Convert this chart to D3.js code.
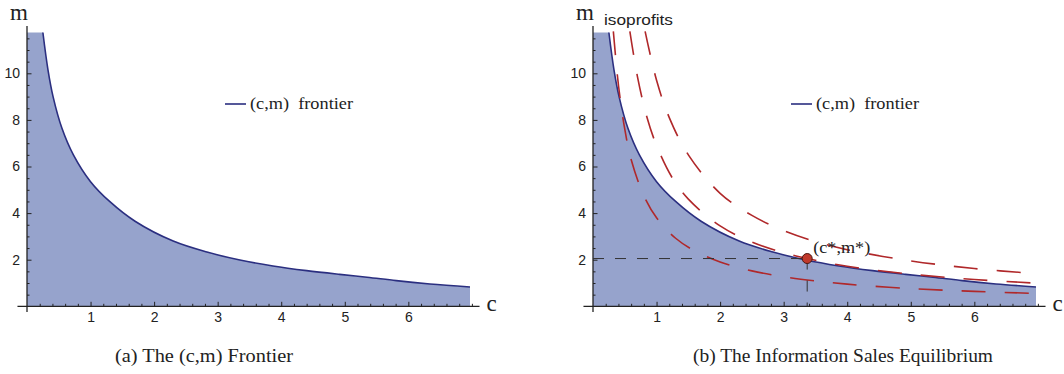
<!DOCTYPE html>
<html>
<head>
<meta charset="utf-8">
<script src="https://cdn.jsdelivr.net/npm/d3@7"></script>
<style>
  body { margin: 0; background: #fff; }
  svg { display: block; }
  .serif { font-family: "Liberation Serif", "Times New Roman", serif; }
  .sans { font-family: "Liberation Sans", Arial, sans-serif; }
</style>
</head>
<body>
<svg id="chart" width="1064" height="374"></svg>
<script>
// frontier (c,m)
const frontierC = [0.25, 0.33, 0.41, 0.55, 0.73, 1.0, 1.3, 1.7, 2.3, 2.83, 3.35, 3.87, 4.4, 4.92, 5.35, 5.81, 6.34, 6.97]
const frontierM = [11.75, 10.15, 9.0, 7.64, 6.5, 5.35, 4.5, 3.65, 2.8, 2.33, 1.985, 1.73, 1.53, 1.37, 1.25, 1.1, 0.96, 0.83]

// three isoprofit curves (right panel)
const iso1C = [0.32, 0.4, 0.5, 0.6, 0.8, 1.0, 1.3, 1.6, 2.0, 2.5, 3.0, 3.5, 4.0, 5.0, 6.0, 7.0]
const iso1M = [11.8, 9.5, 7.6, 6.3, 4.75, 3.8, 2.92, 2.38, 1.9, 1.52, 1.27, 1.09, 0.95, 0.76, 0.64, 0.55]
const iso2C = [0.58, 0.7, 0.85, 1.0, 1.25, 1.5, 2.0, 2.5, 3.0, 3.37, 4.0, 5.0, 6.0, 7.0]
const iso2M = [11.8, 9.85, 8.1, 6.9, 5.5, 4.6, 3.45, 2.76, 2.3, 2.05, 1.72, 1.38, 1.15, 0.99]
const iso3C = [0.82, 1.0, 1.2, 1.5, 2.0, 2.5, 3.0, 3.5, 4.0, 5.0, 6.0, 7.0]
const iso3M = [11.8, 9.7, 8.1, 6.5, 4.85, 3.9, 3.25, 2.78, 2.43, 1.95, 1.62, 1.4]

// equilibrium
const eqC = 3.37
const eqM = 2.05

// ticks
const xMajorTicks = [1, 2, 3, 4, 5, 6]
const yMajorTicks = [2, 4, 6, 8, 10]

const FILL = "#96a3cc"
const LINE = "#2b2f80"
const RED = "#b0282a"

const svg = d3.select("#chart")

const x = d3.scaleLinear().domain([0, 7]).range([0, 444.9])
const y = d3.scaleLinear().domain([0, 12]).range([279.6, 0])

const toPts = (cs, ms) => cs.map((c, i) => ({ c: c, m: ms[i] }))
const line = d3.line().x(d => x(d.c)).y(d => y(d.m)).curve(d3.curveCatmullRom.alpha(0.5))

function drawPanel(ox, caption, capX0, capX1) {
  const g = svg.append("g").attr("transform", `translate(${ox},26.7)`)

  // shaded region under the frontier
  const pts = toPts(frontierC, frontierM)
  const fp = line(pts)
  const areaPath = `M${x(0)},${y(0)}L${x(0)},${y(frontierM[0])}L` + fp.slice(1) +
    `L${x(frontierC[frontierC.length - 1])},${y(0)}Z`
  g.append("path").attr("d", areaPath).attr("fill", FILL)

  // axes
  const minorX = d3.range(1, 36).map(i => i * 0.2).filter(v => Math.abs(v - Math.round(v)) > 1e-6 || v > 6.5)
  const minorY = d3.range(1, 24).map(i => i * 0.5).filter(v => v % 2 !== 0)

  const xAxis = g.append("g").attr("transform", `translate(0,${y(0)})`)
    .call(d3.axisBottom(x).tickValues(xMajorTicks).tickSize(-4.5).tickPadding(6).tickFormat(d3.format("d")))
  const xMinor = g.append("g").attr("transform", `translate(0,${y(0)})`)
    .call(d3.axisBottom(x).tickValues(minorX).tickSize(-2.5).tickFormat(""))
  const yAxis = g.append("g")
    .call(d3.axisLeft(y).tickValues(yMajorTicks).tickSize(-4.5).tickPadding(7).tickFormat(d3.format("d")))
  const yMinor = g.append("g")
    .call(d3.axisLeft(y).tickValues(minorY).tickSize(-2.5).tickFormat(""))

  ;[xAxis, xMinor, yAxis, yMinor].forEach(a => {
    a.select(".domain").remove()
    a.selectAll(".tick line").attr("stroke", "#222").attr("stroke-width", 1)
    a.selectAll(".tick text").attr("font-size", 14).attr("fill", "#222")
      .attr("font-family", "'Liberation Sans', Arial, sans-serif")
  })

  g.append("line")
    .attr("x1", x(-0.15)).attr("x2", x(7.12))
    .attr("y1", y(0)).attr("y2", y(0))
    .attr("stroke", "#222").attr("stroke-width", 1.3)
  g.append("line")
    .attr("x1", x(0)).attr("x2", x(0))
    .attr("y1", y(-0.25)).attr("y2", y(12.03))
    .attr("stroke", "#222").attr("stroke-width", 1.3)

  // frontier line
  g.append("path").attr("d", fp)
    .attr("fill", "none").attr("stroke", LINE).attr("stroke-width", 1.6)

  // axis labels
  g.append("text").attr("class", "serif")
    .attr("x", x(0) - 17).attr("y", -6.5)
    .attr("font-size", 23).attr("fill", "#222").text("m")
  g.append("text").attr("class", "serif")
    .attr("x", x(7.12) + 7).attr("y", y(0) + 5)
    .attr("font-size", 23).attr("fill", "#222").text("c")

  // legend
  g.append("line")
    .attr("x1", 198).attr("x2", 219).attr("y1", 77.3).attr("y2", 77.3)
    .attr("stroke", LINE).attr("stroke-width", 1.6)
  g.append("text").attr("class", "serif")
    .attr("x", 223).attr("y", 82.5)
    .attr("font-size", 16).attr("fill", "#222")
    .attr("textLength", 103).attr("lengthAdjust", "spacingAndGlyphs")
    .style("white-space", "pre")
    .text("(c,m)  frontier")

  // caption
  svg.append("text").attr("class", "serif")
    .attr("x", capX0).attr("y", 362)
    .attr("font-size", 19).attr("fill", "#222")
    .attr("textLength", capX1 - capX0).attr("lengthAdjust", "spacingAndGlyphs")
    .text(caption)

  return g
}

drawPanel(27, "(a) The (c,m) Frontier", 115, 293)
const rg = drawPanel(593, "(b) The Information Sales Equilibrium", 693, 993)

// isoprofits
;[[iso1C, iso1M], [iso2C, iso2M], [iso3C, iso3M]].forEach(([cs, ms]) => {
  rg.append("path").attr("d", line(toPts(cs, ms)))
    .attr("fill", "none").attr("stroke", RED)
    .attr("stroke-width", 1.6).attr("stroke-dasharray", "24,19")
})

rg.append("text").attr("class", "sans")
  .attr("x", 11).attr("y", -1.5)
  .attr("font-size", 15).attr("fill", "#222")
  .attr("textLength", 69).attr("lengthAdjust", "spacingAndGlyphs")
  .text("isoprofits")

// dashed guides to the equilibrium
rg.append("line")
  .attr("x1", x(0)).attr("x2", x(eqC))
  .attr("y1", y(eqM)).attr("y2", y(eqM))
  .attr("stroke", "#333").attr("stroke-width", 1).attr("stroke-dasharray", "11,11")
rg.append("line")
  .attr("x1", x(eqC)).attr("x2", x(eqC))
  .attr("y1", y(eqM)).attr("y2", y(0))
  .attr("stroke", "#333").attr("stroke-width", 1).attr("stroke-dasharray", "11,11")

rg.append("circle")
  .attr("cx", x(eqC)).attr("cy", y(eqM)).attr("r", 5)
  .attr("fill", "#c0392b").attr("stroke", "#4a1510").attr("stroke-width", 1)

rg.append("text").attr("class", "serif")
  .attr("x", x(eqC) + 6).attr("y", y(eqM) - 6)
  .attr("font-size", 17).attr("fill", "#222")
  .attr("textLength", 57).attr("lengthAdjust", "spacingAndGlyphs")
  .text("(c*,m*)")
</script>
</body>
</html>
